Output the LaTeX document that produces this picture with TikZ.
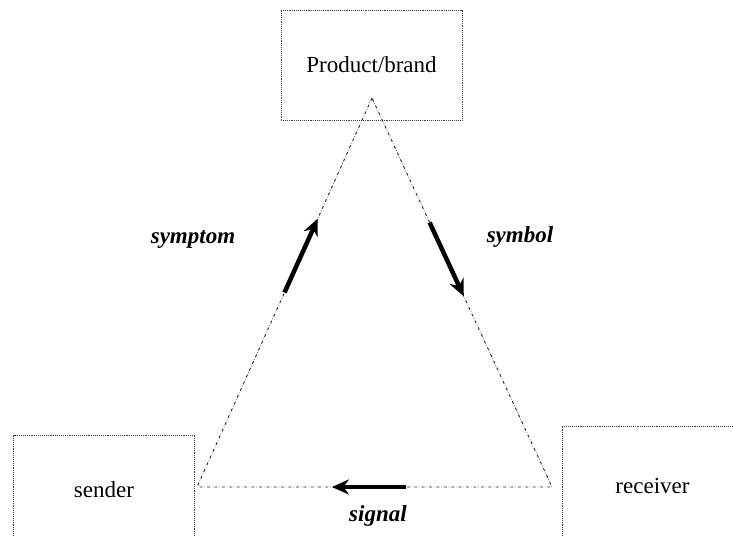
\documentclass[tikz,border=0pt]{standalone}
\usepackage{fontspec}
\setmainfont{Liberation Serif}
\usetikzlibrary{arrows.meta}
\usetikzlibrary{calc}

\tikzset{
  box/.style={draw=black!75, densely dotted, line width=0.9pt,
    minimum width=181pt, minimum height=110pt, inner sep=0pt,
    font=\fontsize{23}{27}\selectfont},
  side/.style={draw=black!85, dash dot, line width=0.9pt},
  flow/.style={line width=4.5pt, -{Stealth[length=17pt,width=15pt]}},
  tag/.style={font=\fontsize{23}{27}\selectfont\bfseries\itshape}
}

\begin{document}
    \begin{tikzpicture}[x=1pt, y=-1pt]
      \useasboundingbox (0,0) rectangle (733,537);
      \clip (0,0) rectangle (733,537);

      \node[box] (brand) at (371.5,65) {Product/brand};
      \node[box] (sender) at (104,490) {sender};
      \node[box, minimum height=120pt] (receiver) at (652.5,486) {receiver};

      \coordinate (apex) at (372,98);
      \coordinate (sl) at (197,487);
      \coordinate (rl) at (552,487);
      \draw[side] (apex) -- (sl) -- (rl) -- cycle;

      % arrows along the sides
      \draw[flow] ($(sl)!.50!(apex)$) -- ($(sl)!.69!(apex)$);
      \draw[flow] ($(apex)!.32!(rl)$) -- ($(apex)!.51!(rl)$);
      \draw[flow] ($(rl)!.41!(sl)$) -- ($(rl)!.62!(sl)$);

      \node[tag] (symptom) at (193,240) {symptom};
      \node[tag] (symbol) at (520,237) {symbol};
      \node[tag] (signal) at (378,516) {signal};
    \end{tikzpicture}
\end{document}
